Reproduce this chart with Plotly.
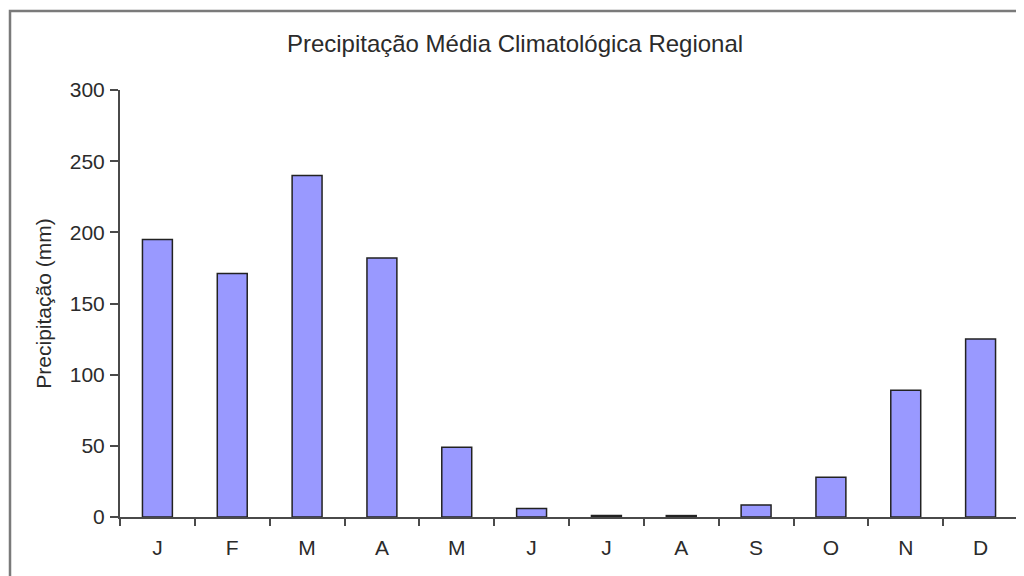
import plotly.graph_objects as go

months = ["J", "F", "M", "A", "M", "J", "J", "A", "S", "O", "N", "D"]
precip = [195, 171, 240, 182, 49, 6, 1, 1, 8.5, 28, 89, 125]
y_ticks = [0, 50, 100, 150, 200, 250, 300]

x_pos = list(range(len(months)))
boundaries = [i - 0.5 for i in range(len(months) + 1)]

font_family = "Liberation Sans, Arial, sans-serif"
axis_color = "#4a4a4a"
text_color = "#2b2b2b"

fig = go.Figure(
    go.Bar(
        x=x_pos,
        y=precip,
        width=0.4,
        marker=dict(color="#9999FF", line=dict(color="#222222", width=1.5)),
        hoverinfo="y",
    )
)

# page body has an 8px margin; figure is sized to fill the rest of the window
OFF = 8
W, H = 1024 - OFF, 576 - OFF
ml, mr, mt, mb = 120 - OFF, 6, 90 - OFF, 59
pw, ph = W - ml - mr, H - mt - mb

def px_to_paper_x(px):
    return (px - OFF - ml) / pw

def px_to_paper_y(py):
    return (H - mb - (py - OFF)) / ph

fig.update_layout(
    width=W,
    height=H,
    margin=dict(l=ml, r=mr, t=mt, b=mb),
    paper_bgcolor="white",
    plot_bgcolor="white",
    showlegend=False,
    font=dict(family=font_family, color=text_color, size=20),
    title=dict(
        text="Precipitação Média Climatológica Regional",
        x=px_to_paper_x(515),
        xref="paper",
        xanchor="center",
        y=1 - (44 - OFF) / H,
        yanchor="middle",
        font=dict(size=24, color=text_color),
    ),
    bargap=0.6,
    shapes=[
        dict(
            type="rect",
            xref="paper",
            yref="paper",
            x0=px_to_paper_x(10),
            x1=px_to_paper_x(1060),
            y0=px_to_paper_y(620),
            y1=px_to_paper_y(11),
            line=dict(color="#7a7a7a", width=2.5),
            fillcolor="rgba(0,0,0,0)",
            layer="below",
        )
    ],
)

fig.update_xaxes(
    range=[-0.5, len(months) - 0.5],
    tickmode="array",
    tickvals=x_pos,
    ticktext=months,
    ticks="",
    showline=True,
    linecolor=axis_color,
    linewidth=2,
    showgrid=False,
    zeroline=False,
    tickfont=dict(size=21, color=text_color),
    ticklabelstandoff=11,
    minor=dict(
        tickmode="array",
        tickvals=boundaries,
        ticks="outside",
        ticklen=7,
        tickwidth=2,
        tickcolor=axis_color,
        showgrid=False,
    ),
)

fig.update_yaxes(
    range=[0, 300],
    tickmode="array",
    tickvals=y_ticks,
    ticks="outside",
    ticklen=8,
    tickwidth=2,
    tickcolor=axis_color,
    showline=True,
    linecolor=axis_color,
    linewidth=2,
    showgrid=False,
    zeroline=False,
    tickfont=dict(size=21, color=text_color),
    ticklabelstandoff=1,
    title=dict(
        text="Precipitação (mm)",
        font=dict(size=21, color=text_color),
        standoff=12,
    ),
)

fig.write_html("out.html")
